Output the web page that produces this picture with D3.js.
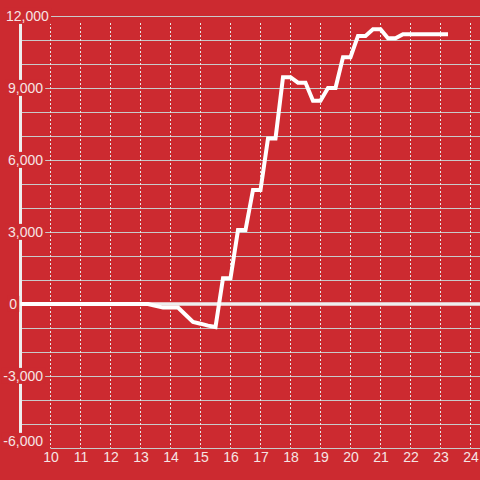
<!DOCTYPE html>
<html>
<head>
<meta charset="utf-8">
<script src="https://cdn.jsdelivr.net/npm/d3@7"></script>
<style>
  body { margin: 0; background: #cc2a30; }
  svg { display: block; font-family: 'Liberation Sans', Arial, sans-serif; }
</style>
</head>
<body>
<div id="container"></div>
<script>
// hours of the day and running value
const hours = [9, 13.25, 13.5, 13.75, 14, 14.25, 14.5, 14.75, 15, 15.25, 15.5, 15.75, 16,
  16.25, 16.5, 16.75, 17, 17.25, 17.5, 17.75, 18, 18.25, 18.5, 18.75, 19, 19.25, 19.5,
  19.75, 20, 20.25, 20.5, 20.75, 21, 21.25, 21.5, 21.75, 23.25]
const values = [0, 0, -80, -150, -150, -150, -450, -750, -820, -900, -960, 1070, 1070,
  3080, 3080, 4750, 4750, 6900, 6900, 9450, 9450, 9220, 9220, 8470, 8470, 9000, 9000,
  10280, 10280, 11170, 11170, 11450, 11450, 11070, 11070, 11240, 11240]
const xTicks = [10, 11, 12, 13, 14, 15, 16, 17, 18, 19, 20, 21, 22, 23, 24]
const yTicks = [-6000, -3000, 0, 3000, 6000, 9000, 12000]
const yGrid = [-5000, -4000, -2000, -1000, 1000, 2000, 4000, 5000, 7000, 8000, 10000, 11000]

chartIt()

function chartIt() {
  var w = 480
  var h = 480
  var red = '#cc2a30'
  var textColor = '#f6e4e4'

  const x = d3.scaleLinear().domain([9, 24.3]).range([20.5, 479.5])
  const y = d3.scaleLinear().domain([-6000, 12000]).range([448, 16])

  var svg = d3.select('#container')
    .append('svg')
    .attr('width', w)
    .attr('height', h)

  svg.append('rect')
    .attr('width', w)
    .attr('height', h)
    .attr('fill', red)

  // horizontal grid
  svg.append('g').selectAll('line')
    .data(yGrid.concat(yTicks.filter(v => v !== 0 && v !== -6000)))
    .enter().append('line')
    .attr('x1', 22)
    .attr('x2', w)
    .attr('y1', d => Math.round(y(d)) + 0.5)
    .attr('y2', d => Math.round(y(d)) + 0.5)
    .attr('stroke', '#c9c9c9')
    .attr('stroke-width', 1.2)

  svg.append('line')
    .attr('x1', x(10))
    .attr('x2', w)
    .attr('y1', y(-6000) + 0.5)
    .attr('y2', y(-6000) + 0.5)
    .attr('stroke', '#c9c9c9')
    .attr('stroke-width', 1.2)

  // vertical dotted grid
  svg.append('g').selectAll('line')
    .data(xTicks)
    .enter().append('line')
    .attr('x1', d => x(d))
    .attr('x2', d => x(d))
    .attr('y1', y(12000) + 7)
    .attr('y2', y(-6000))
    .attr('stroke', '#e6e6e6')
    .attr('stroke-width', 1)
    .attr('stroke-dasharray', '2,2')

  // y axis line and zero line
  svg.append('line')
    .attr('x1', x(9))
    .attr('x2', x(9))
    .attr('y1', y(12000))
    .attr('y2', y(-6000))
    .attr('stroke', '#eeeeee')
    .attr('stroke-width', 3)

  svg.append('line')
    .attr('x1', 19)
    .attr('x2', w)
    .attr('y1', y(0))
    .attr('y2', y(0))
    .attr('stroke', '#eeeeee')
    .attr('stroke-width', 3.5)

  // y labels with a red backing box
  const fmt = d3.format(',')
  const yLab = svg.append('g').attr('id', 'y-axis')
  yTicks.forEach(v => {
    const g = yLab.append('g')
    const t = g.append('text')
      .attr('y', y(v) + (v === -6000 ? -7 : 0))
      .attr('dy', '0.35em')
      .attr('fill', textColor)
      .style('font-size', '14px')
      .text(fmt(v).replace('\u2212', '-'))
    if (v === 12000) {
      t.attr('x', 6).attr('text-anchor', 'start')
    } else if (v === 0) {
      t.attr('x', 17).attr('text-anchor', 'end')
    } else {
      t.attr('x', 43).attr('text-anchor', 'end')
    }
    const bb = t.node().getBBox()
    g.insert('rect', 'text')
      .attr('x', bb.x - 2)
      .attr('y', bb.y)
      .attr('width', bb.width + 4)
      .attr('height', bb.height)
      .attr('fill', red)
  })

  // x labels
  const xAxis = d3.axisBottom(x)
    .tickValues(xTicks)
    .tickSize(0)
    .tickPadding(0)

  const gx = svg.append('g')
    .attr('id', 'x-axis')
    .attr('transform', 'translate(0,452)')
    .call(xAxis)
  gx.select('.domain').remove()
  gx.selectAll('text')
    .attr('fill', textColor)
    .attr('dy', '0.71em')
    .style('font-size', '14px')
    .style('font-family', "'Liberation Sans', Arial, sans-serif")

  // the series line
  const line = d3.line()
    .x((d, i) => x(hours[i]))
    .y(d => y(d))

  svg.append('path')
    .datum(values)
    .attr('d', line)
    .attr('fill', 'none')
    .attr('stroke', '#ffffff')
    .attr('stroke-width', 4)
    .attr('stroke-linejoin', 'miter')
}
</script>
</body>
</html>
